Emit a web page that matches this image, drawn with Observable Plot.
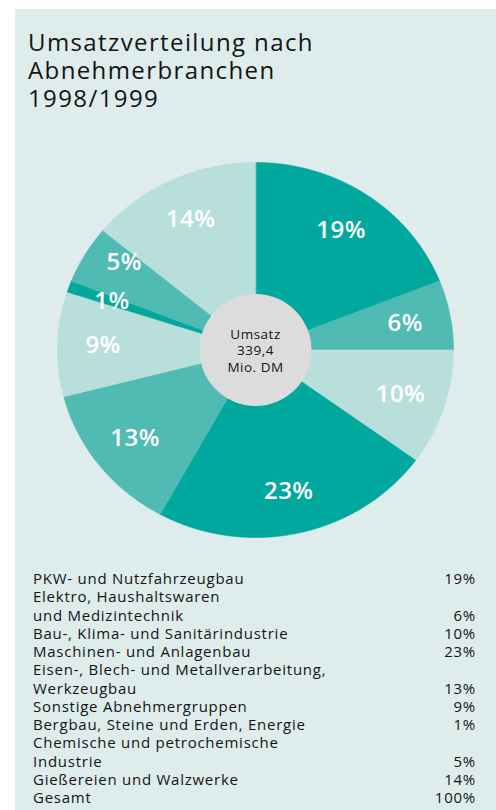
<!DOCTYPE html>
<html><head><meta charset="utf-8">
<script src="https://cdn.jsdelivr.net/npm/d3@7"></script>
<script src="https://cdn.jsdelivr.net/npm/@observablehq/plot@0.6"></script>
<style>
html,body{margin:0;padding:0;background:#fff;overflow:hidden;}
body{font-family:"Open Sans",sans-serif;color:#141414;width:496px;height:810px;position:relative;}
#panel{position:absolute;left:15px;top:9px;width:481px;height:801px;background:#deeceb;}
#title{position:absolute;left:28px;top:28px;font-size:24px;line-height:28px;white-space:pre;letter-spacing:0.058em;}
#chart{position:absolute;left:0;top:140px;}
#legend{position:absolute;left:33px;top:569px;width:443px;font-size:15px;line-height:18.25px;letter-spacing:0.05em;}
.row{display:flex;justify-content:space-between;align-items:flex-end;}
.lab{white-space:pre-line;}
</style></head>
<body>
<div id="panel"></div>
<div id="title"></div>
<div id="chart"></div>
<div id="legend"></div>
<script>
const titleLines = ["Umsatzverteilung nach", "Abnehmerbranchen", "1998/1999"];
const categories = [
  "PKW- und Nutzfahrzeugbau",
  "Elektro, Haushaltswaren\nund Medizintechnik",
  "Bau-, Klima- und Sanitärindustrie",
  "Maschinen- und Anlagenbau",
  "Eisen-, Blech- und Metallverarbeitung,\nWerkzeugbau",
  "Sonstige Abnehmergruppen",
  "Bergbau, Steine und Erden, Energie",
  "Chemische und petrochemische\nIndustrie",
  "Gießereien und Walzwerke"
];
const shares = [19, 6, 10, 23, 13, 9, 1, 5, 14];
const shades = ["dark", "medium", "light", "dark", "medium", "light", "dark", "medium", "light"];
const totalLabel = "Gesamt";
const totalValue = 100;
const centerLines = ["Umsatz", "339,4", "Mio. DM"];

const shadeDomain = ["dark", "medium", "light"];
const shadeRange = ["#00a89e", "#50bbb2", "#b9dfdb"];

document.getElementById("title").textContent = titleLines.join("\n");

// slices from the shares
const pie = d3.pie().sort(null).value(d => d)(shares);
const outline = [];
const labels = [];
pie.forEach((p, i) => {
  const a0 = p.startAngle, a1 = p.endAngle;
  const steps = Math.max(2, Math.ceil((a1 - a0) / (Math.PI / 360)));
  outline.push({k: i, shade: shades[i], x: 0, y: 0});
  for (let s = 0; s <= steps; s++) {
    const a = a0 + (a1 - a0) * s / steps;
    outline.push({k: i, shade: shades[i], x: Math.sin(a), y: Math.cos(a)});
  }
  const m = (a0 + a1) / 2;
  const afterTiny = i > 0 && shares[i - 1] <= 2;
  labels.push({x: 0.77 * Math.sin(m), y: 0.77 * Math.cos(m), text: shares[i] + "%", afterTiny});
});

const chart = Plot.plot({
  width: 496, height: 420,
  marginLeft: 57, marginRight: 43, marginTop: 22, marginBottom: 23,
  style: {background: "transparent", fontFamily: "Open Sans, sans-serif", letterSpacing: "0.05em"},
  x: {domain: [-1, 1], axis: null},
  y: {domain: [-1, 1], axis: null},
  color: {domain: shadeDomain, range: shadeRange},
  marks: [
    Plot.line(outline, {x: "x", y: "y", z: "k", fill: "shade", stroke: "shade", strokeWidth: 0.6, curve: "linear-closed"}),
    Plot.text(labels, {filter: d => !d.afterTiny, x: "x", y: "y", text: "text", fill: "white", fontSize: 24, fontWeight: 600}),
    Plot.text(labels, {filter: d => d.afterTiny, x: "x", y: "y", dy: -14, text: "text", fill: "white", fontSize: 24, fontWeight: 600}),
    Plot.dot([{x: 0, y: 0}], {x: "x", y: "y", r: 56, fill: "#dcdcdc", stroke: "none"}),
    Plot.text([{x: 0, y: 0, t: centerLines.join("\n")}], {x: "x", y: "y", text: "t", fill: "#141414", fontSize: 13.5, lineHeight: 1.22})
  ]
});
document.getElementById("chart").appendChild(chart);

const leg = document.getElementById("legend");
const rows = categories.map((c, i) => [c, shares[i] + "%"]);
rows.push([totalLabel, totalValue + "%"]);
rows.forEach(([c, v]) => {
  const r = document.createElement("div"); r.className = "row";
  const a = document.createElement("span"); a.className = "lab"; a.textContent = c;
  const b = document.createElement("span"); b.textContent = v;
  r.appendChild(a); r.appendChild(b); leg.appendChild(r);
});
</script>
</body></html>
